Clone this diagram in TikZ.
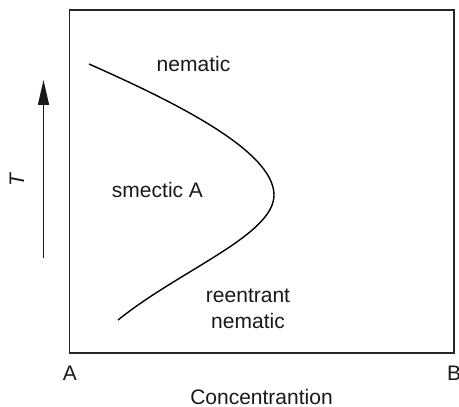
\documentclass[tikz,border=0pt]{standalone}
\usepackage{fontspec}
\setmainfont{Liberation Sans}
\usetikzlibrary{arrows.meta,positioning}

\begin{document}
\begin{tikzpicture}[
    x=0.5pt, y=-0.5pt,
    every node/.style={font=\fontsize{10.5}{12}\selectfont, text=black!90},
    phase/.style={anchor=base, inner sep=0pt},
    frame/.style={draw=black!85, line width=0.9pt},
    boundary/.style={draw=black, line width=0.7pt},
    axisarrow/.style={-{Triangle[length=12.5pt, width=5.5pt]}, line width=0.75pt, draw=black!90}
]
\useasboundingbox (0,0) rectangle (459,406);
% diagram frame
\coordinate (corner nw) at (69.5,10);
\coordinate (corner se) at (454,353);
\draw[frame] (corner nw) rectangle (corner se);
% phase boundary
\coordinate (top end) at (89,64);
\coordinate (nose) at (274,195);
\coordinate (bottom end) at (118,320);
\draw[boundary] (top end) .. controls (170,100) and (274,150) .. (nose)
    .. controls (274,235) and (180,270) .. (bottom end);
% phase labels
\node[phase] (nematic) at (193.5,72) {nematic};
\node[phase] (smectic) at (157.5,198) {smectic A};
\node[phase] (reentrant) at (248,302) {reentrant};
\node[phase] (reentrant nematic) at (248,328) {nematic};
% axes
\coordinate (T tail) at (43.5,258);
\coordinate (T head) at (43.5,80);
\draw[axisarrow] (T tail) -- (T head);
\node[rotate=90] (T) at (17,179) {\textit{T}};
\node[phase] (A) at (70,380) {A};
\node[phase] (B) at (454,380) {B};
\node[phase] (concentration) at (261.5,404) {Concentrantion};
\end{tikzpicture}
\end{document}
